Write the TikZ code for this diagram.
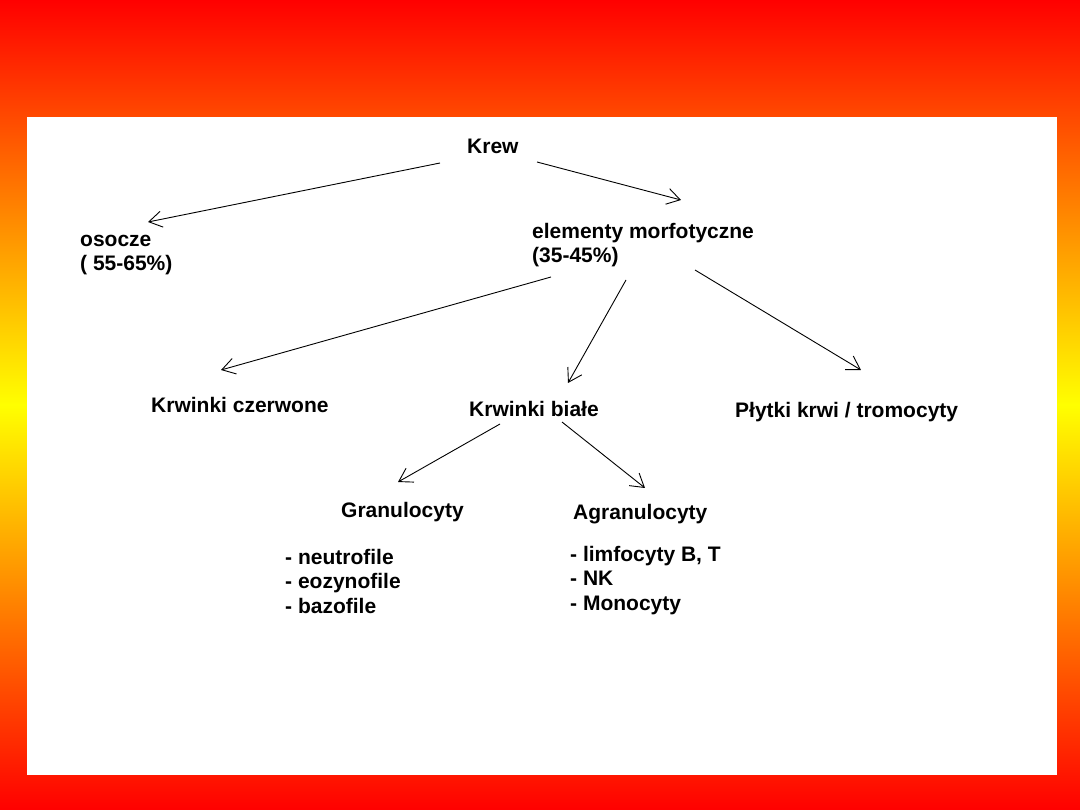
\documentclass[tikz,border=0pt]{standalone}
\usepackage{fontspec}
\setmainfont{Liberation Sans}
\usetikzlibrary{arrows.meta}

\tikzset{
  lbl/.style={anchor=base west, inner sep=0pt, align=left,
              font=\fontsize{21}{24.5}\selectfont\bfseries},
  arr/.style={-{Straight Barb[length=13pt,width=16pt]}, line width=0.9pt}
}

\begin{document}
\begin{tikzpicture}[x=1pt, y=-1pt]
      \useasboundingbox (0,0) rectangle (1080,810);
      % Background
      \shade[top color=red, bottom color=yellow] (0,0) rectangle (1080,405);
      \shade[top color=yellow, bottom color=red] (0,405) rectangle (1080,810);
      \fill[white] (27,117) rectangle (1057,775);
      % Labels (multi-line ones sit on their last line)
      \node[lbl] (krew) at (467,154) {Krew};
      \node[lbl] (osocze) at (80,271) {osocze\\( 55-65\%)};
      \node[lbl] (elem) at (532,263) {elementy morfotyczne\\(35-45\%)};
      \node[lbl] (czerw) at (151,413) {Krwinki czerwone};
      \node[lbl] (biale) at (469,417) {Krwinki białe};
      \node[lbl] (plytki) at (735,418) {Płytki krwi / tromocyty};
      \node[lbl] (granul) at (341,518) {Granulocyty};
      \node[lbl] (agranul) at (573,519) {Agranulocyty};
      \node[lbl] (granlist) at (285,613) {- neutrofile\\- eozynofile\\- bazofile};
      \node[lbl] (agrlist) at (570,610) {- limfocyty B, T\\- NK\\- Monocyty};
      % Arrow ends
      \coordinate (krew-l) at (440,163);
      \coordinate (krew-r) at (537,162);
      \coordinate (osocze-in) at (148,222);
      \coordinate (elem-in) at (681,200);
      \coordinate (elem-l) at (551,277);
      \coordinate (elem-m) at (626,280);
      \coordinate (elem-r) at (695,270);
      \coordinate (czerw-in) at (221,370);
      \coordinate (biale-in) at (568,383);
      \coordinate (plytki-in) at (861,370);
      \coordinate (biale-l) at (500,424);
      \coordinate (biale-r) at (562,422);
      \coordinate (granul-in) at (398,482);
      \coordinate (agranul-in) at (645,488);
      % Arrows
      \draw[arr] (krew-l) -- (osocze-in);
      \draw[arr] (krew-r) -- (elem-in);
      \draw[arr] (elem-l) -- (czerw-in);
      \draw[arr] (elem-m) -- (biale-in);
      \draw[arr] (elem-r) -- (plytki-in);
      \draw[arr] (biale-l) -- (granul-in);
      \draw[arr] (biale-r) -- (agranul-in);
\end{tikzpicture}
\end{document}
